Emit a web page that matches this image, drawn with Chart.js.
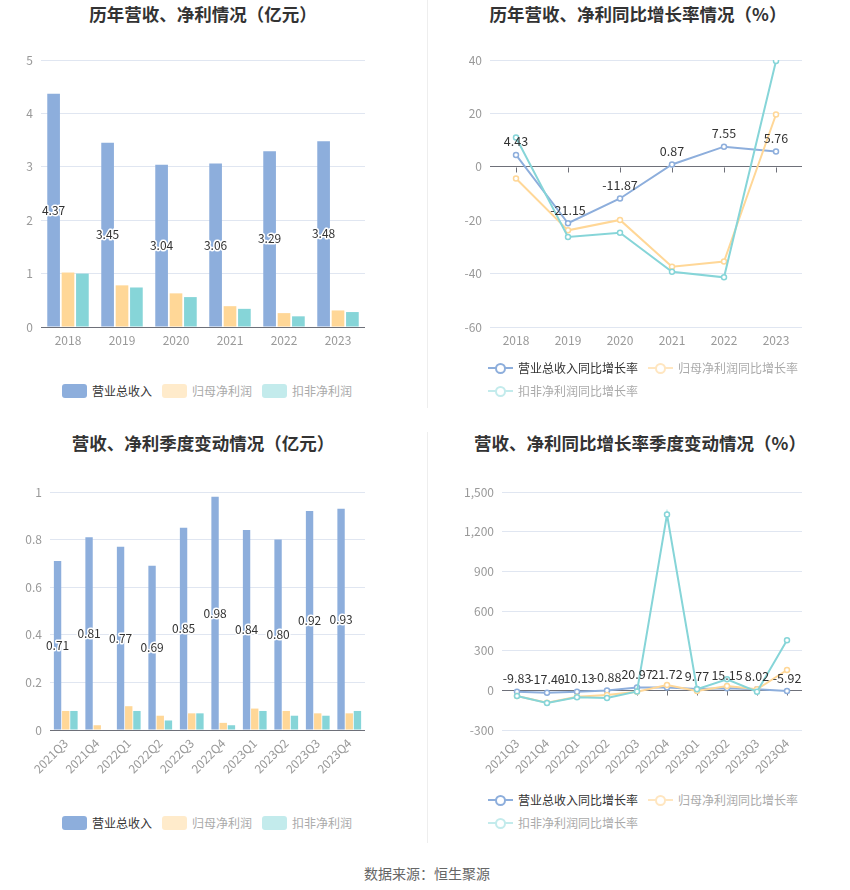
<!DOCTYPE html>
<html><head><meta charset="utf-8">
<script src="https://cdn.jsdelivr.net/npm/chart.js@4.4.1/dist/chart.umd.min.js"></script>
<style>
html,body{margin:0;padding:0;background:#fff}
body{width:850px;height:890px;position:relative;overflow:hidden;font-family:'Noto Sans CJK SC',sans-serif}
.title{position:absolute;font-size:17.5px;font-weight:bold;color:#333;white-space:nowrap;transform:translate(-50%,-50%);line-height:1}
.box{position:absolute}
.legend{position:absolute;font-size:12px;white-space:nowrap;line-height:14px}
.item{display:inline-flex;align-items:center;margin-right:10px;vertical-align:top}
.sw{display:inline-block;width:25px;height:14px;border-radius:3px;margin-right:5px}
.ln{display:inline-block;width:25px;height:14px;margin-right:5px;position:relative}
.ln:before{content:'';position:absolute;left:0;right:0;top:6px;height:2px;background:var(--c)}
.ln:after{content:'';position:absolute;left:7px;top:2px;width:7px;height:7px;border:2px solid var(--c);border-radius:50%;background:#fff}
.row{height:23px}
.vline{position:absolute;left:427px;width:1px;background:#eee}
.footer{position:absolute;left:427px;top:873px;transform:translate(-50%,-50%);font-size:14px;color:#666;white-space:nowrap;line-height:1}
</style></head>
<body>
<div class="title" style="left:203px;top:14px">历年营收、净利情况（亿元）</div>
<div class="title" style="left:638px;top:14px">历年营收、净利同比增长率情况（%）</div>
<div class="title" style="left:203px;top:443px">营收、净利季度变动情况（亿元）</div>
<div class="title" style="left:640px;top:443px">营收、净利同比增长率季度变动情况（%）</div>
<div class="vline" style="top:0;height:408px"></div>
<div class="vline" style="top:432px;height:411px"></div>

<div class="box" style="left:0;top:30px;width:427px;height:340px"><canvas id="c1" width="427" height="340"></canvas></div>
<div class="box" style="left:430px;top:30px;width:420px;height:340px"><canvas id="c2" width="420" height="340"></canvas></div>
<div class="box" style="left:0;top:460px;width:427px;height:320px"><canvas id="c3" width="427" height="320"></canvas></div>
<div class="box" style="left:430px;top:460px;width:420px;height:320px"><canvas id="c4" width="420" height="320"></canvas></div>

<div class="legend" style="left:62px;top:384px">
  <span class="item"><span class="sw" style="background:#8DAEDC"></span><span style="color:#333">营业总收入</span></span><span class="item"><span class="sw" style="background:#FFEBCB"></span><span style="color:#aaa">归母净利润</span></span><span class="item"><span class="sw" style="background:#C3EBEC"></span><span style="color:#aaa">扣非净利润</span></span>
</div>
<div class="legend" style="left:488px;top:361px">
  <div class="row"><span class="item"><span class="ln" style="--c:#8DAEDC"></span><span style="color:#333">营业总收入同比增长率</span></span><span class="item"><span class="ln" style="--c:#FFE6C0"></span><span style="color:#aaa">归母净利润同比增长率</span></span></div>
  <div class="row"><span class="item"><span class="ln" style="--c:#C3EBEC"></span><span style="color:#aaa">扣非净利润同比增长率</span></span></div>
</div>
<div class="legend" style="left:62px;top:816px">
  <span class="item"><span class="sw" style="background:#8DAEDC"></span><span style="color:#333">营业总收入</span></span><span class="item"><span class="sw" style="background:#FFEBCB"></span><span style="color:#aaa">归母净利润</span></span><span class="item"><span class="sw" style="background:#C3EBEC"></span><span style="color:#aaa">扣非净利润</span></span>
</div>
<div class="legend" style="left:488px;top:793px">
  <div class="row"><span class="item"><span class="ln" style="--c:#8DAEDC"></span><span style="color:#333">营业总收入同比增长率</span></span><span class="item"><span class="ln" style="--c:#FFE6C0"></span><span style="color:#aaa">归母净利润同比增长率</span></span></div>
  <div class="row"><span class="item"><span class="ln" style="--c:#C3EBEC"></span><span style="color:#aaa">扣非净利润同比增长率</span></span></div>
</div>
<div class="footer">数据来源：恒生聚源</div>

<script>
// ---- data ----
const years = ['2018','2019','2020','2021','2022','2023'];
const revenue = [4.37, 3.45, 3.04, 3.06, 3.29, 3.48];
const netProfit = [1.02, 0.78, 0.63, 0.39, 0.26, 0.31];
const deductedProfit = [1.00, 0.74, 0.56, 0.34, 0.20, 0.28];
const revenueYoY = [4.43, -21.15, -11.87, 0.87, 7.55, 5.76];
const netProfitYoY = [-4.4, -23.8, -19.9, -37.4, -35.5, 19.6];
const deductedYoY = [11.0, -26.3, -24.7, -39.3, -41.4, 39.6];
const quarters = ['2021Q3','2021Q4','2022Q1','2022Q2','2022Q3','2022Q4','2023Q1','2023Q2','2023Q3','2023Q4'];
const qRevenue = [0.71, 0.81, 0.77, 0.69, 0.85, 0.98, 0.84, 0.80, 0.92, 0.93];
const qNetProfit = [0.08, 0.02, 0.10, 0.06, 0.07, 0.03, 0.09, 0.08, 0.07, 0.07];
const qDeducted = [0.08, 0.00, 0.08, 0.04, 0.07, 0.02, 0.08, 0.06, 0.06, 0.08];
const qRevenueYoY = [-9.83, -17.40, -10.13, -0.88, 20.97, 21.72, 9.77, 15.15, 8.02, -5.92];
const qNetProfitYoY = [-43, -93, -48, -35, -10, 40, -5, 33, 8, 154];
const qDeductedYoY = [-43, -96, -53, -58, -8, 1330, 8, 83, -10, 378];
const seriesNames = ['营业总收入','归母净利润','扣非净利润'];
const rateNames = ['营业总收入同比增长率','归母净利润同比增长率','扣非净利润同比增长率'];

// ---- styles ----
const BLUE = '#8DAEDC', YELLOW = '#FFD797', TEAL = '#86D5D8';
const FONT = "'Noto Sans CJK SC', sans-serif";
Chart.defaults.font.family = FONT;
Chart.defaults.animation = false;

const valueLabels = {
  id: 'valueLabels',
  afterDatasetsDraw(chart) {
    const ctx = chart.ctx;
    chart.data.datasets.forEach((ds, i) => {
      if (!ds.showValues) return;
      const meta = chart.getDatasetMeta(i);
      meta.data.forEach((el, j) => {
        const v = ds.data[j];
        const txt = v.toFixed(2);
        ctx.save();
        ctx.textAlign = 'center';
        if (meta.type === 'bar') {
          ctx.font = '12px ' + FONT;
          ctx.textBaseline = 'middle';
          const y = (el.y + el.base) / 2;
          ctx.lineJoin = 'round';
          ctx.lineWidth = 3;
          ctx.strokeStyle = '#fff';
          ctx.strokeText(txt, el.x, y);
          ctx.fillStyle = '#333';
          ctx.fillText(txt, el.x, y);
        } else {
          ctx.font = '12.5px ' + FONT;
          ctx.textBaseline = 'bottom';
          ctx.fillStyle = '#333';
          ctx.fillText(txt, el.x, el.y - 7);
        }
        ctx.restore();
      });
    });
  }
};
const zeroTicks = {
  id: 'zeroTicks',
  beforeDatasetsDraw(chart) {
    if (!chart.options.zeroTicks) return;
    const ctx = chart.ctx, xs = chart.scales.x, ys = chart.scales.y;
    const y0 = Math.round(ys.getPixelForValue(0)) + 0.5;
    ctx.save();
    ctx.strokeStyle = '#6E7079';
    ctx.lineWidth = 1;
    chart.data.labels.forEach((l, i) => {
      const x = Math.round(xs.getPixelForValue(i)) + 0.5;
      ctx.beginPath(); ctx.moveTo(x, y0); ctx.lineTo(x, y0 + 5); ctx.stroke();
    });
    ctx.restore();
  }
};

function yScale(min, max, step, width) {
  return {
    min, max,
    ticks: { stepSize: step, padding: 8, color: '#999', font: { size: 12 },
             callback: v => (+v.toFixed(2)).toLocaleString('en-US') },
    grid: { drawTicks: false, color: c => (c.tick && c.tick.value === 0) ? '#6E7079' : '#E0E6F1', lineWidth: 1 },
    border: { display: false },
    afterFit(s) { s.width = width; }
  };
}
function xScale(height, rotate, offset) {
  return {
    offset: offset,
    ticks: { color: '#999', font: { size: 12 }, padding: 6, autoSkip: false,
             minRotation: rotate, maxRotation: rotate },
    grid: { display: false, drawTicks: false },
    border: { display: false },
    afterFit(s) { s.height = height; }
  };
}
const basePlugins = { legend: { display: false }, tooltip: { enabled: false }, title: { display: false } };

// Chart 1: yearly bars
new Chart(document.getElementById('c1'), {
  type: 'bar',
  data: {
    labels: years,
    datasets: [
      { label: seriesNames[0], data: revenue, backgroundColor: BLUE, showValues: true },
      { label: seriesNames[1], data: netProfit, backgroundColor: YELLOW },
      { label: seriesNames[2], data: deductedProfit, backgroundColor: TEAL }
    ]
  },
  options: {
    responsive: false,
    datasets: { bar: { categoryPercentage: 0.8, barPercentage: 0.88 } },
    layout: { padding: { top: 30, right: 62, bottom: 13, left: 0 } },
    scales: { x: xScale(30, 0, true), y: yScale(0, 5, 1, 41) },
    plugins: basePlugins
  },
  plugins: [valueLabels]
});

// Chart 2: yearly growth lines
function lineDs(label, data, color, order, show, r) {
  return { label, data, borderColor: color, backgroundColor: color, borderWidth: 2,
    pointRadius: r, pointBorderWidth: 1.5, pointBackgroundColor: '#fff', pointBorderColor: color,
    tension: 0, order, showValues: show };
}
new Chart(document.getElementById('c2'), {
  type: 'line',
  data: {
    labels: years,
    datasets: [
      lineDs(rateNames[0], revenueYoY, BLUE, 2, true, 2.5),
      lineDs(rateNames[1], netProfitYoY, YELLOW, 1, false, 2.5),
      lineDs(rateNames[2], deductedYoY, TEAL, 0, false, 2.5)
    ]
  },
  options: {
    responsive: false,
    zeroTicks: true,
    layout: { padding: { top: 30, right: 48, bottom: 13, left: 0 } },
    scales: { x: xScale(30, 0, true), y: yScale(-60, 40, 20, 60) },
    plugins: basePlugins
  },
  plugins: [zeroTicks, valueLabels]
});

// Chart 3: quarterly bars
new Chart(document.getElementById('c3'), {
  type: 'bar',
  data: {
    labels: quarters,
    datasets: [
      { label: seriesNames[0], data: qRevenue, backgroundColor: BLUE, showValues: true },
      { label: seriesNames[1], data: qNetProfit, backgroundColor: YELLOW },
      { label: seriesNames[2], data: qDeducted, backgroundColor: TEAL }
    ]
  },
  options: {
    responsive: false,
    datasets: { bar: { categoryPercentage: 0.78, barPercentage: 0.9 } },
    layout: { padding: { top: 32, right: 62, bottom: 5, left: 0 } },
    scales: { x: xScale(45, 45, true), y: yScale(0, 1, 0.2, 50) },
    plugins: basePlugins
  },
  plugins: [valueLabels]
});

// Chart 4: quarterly growth lines
new Chart(document.getElementById('c4'), {
  type: 'line',
  data: {
    labels: quarters,
    datasets: [
      lineDs(rateNames[0], qRevenueYoY, BLUE, 2, true, 2.5),
      lineDs(rateNames[1], qNetProfitYoY, YELLOW, 1, false, 2.5),
      lineDs(rateNames[2], qDeductedYoY, TEAL, 0, false, 2.5)
    ]
  },
  options: {
    responsive: false,
    zeroTicks: true,
    layout: { padding: { top: 32, right: 48, bottom: 5, left: 0 } },
    scales: { x: xScale(45, 45, true), y: yScale(-300, 1500, 300, 72) },
    plugins: basePlugins
  },
  plugins: [zeroTicks, valueLabels]
});
</script>
</body></html>
